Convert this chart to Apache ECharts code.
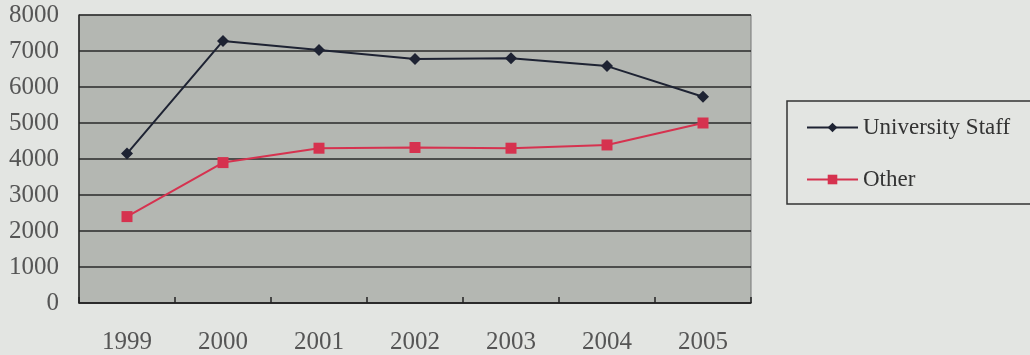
<!DOCTYPE html>
<html>
<head>
<meta charset="utf-8">
<script src="https://cdn.jsdelivr.net/npm/echarts@6/dist/echarts.min.js"></script>
<style>
  html, body { margin: 0; padding: 0; background: #e3e5e2; }
  #chart { width: 1030px; height: 355px; }
</style>
</head>
<body>
<div id="chart"></div>
<script>
// Years along the horizontal axis
const years = ['1999', '2000', '2001', '2002', '2003', '2004', '2005'];
// Staff counts per year
const universityStaff = [4150, 7280, 7030, 6780, 6800, 6580, 5730];
const other = [2400, 3900, 4300, 4320, 4300, 4390, 5000];
// Value axis range
const yMin = 0;
const yMax = 8000;
const yStep = 1000;

const serif = '"Liberation Serif", "DejaVu Serif", serif';

const chart = echarts.init(document.getElementById('chart'), null, { renderer: 'canvas' });

chart.setOption({
  backgroundColor: '#e3e5e2',
  animation: false,
  grid: {
    left: 79, right: 279, top: 15, bottom: 52,
    show: true,
    backgroundColor: '#b4b7b2',
    borderColor: '#777',
    borderWidth: 1
  },
  legend: {
    orient: 'vertical',
    left: 787,
    top: 101,
    padding: [15, 60, 13, 19],
    itemWidth: 51,
    itemHeight: 12,
    itemGap: 29,
    borderColor: '#333',
    borderWidth: 1.5,
    backgroundColor: '#e3e5e2',
    textStyle: { fontFamily: serif, fontSize: 23, color: '#333' },
    data: ['University Staff', 'Other']
  },
  xAxis: {
    type: 'category',
    data: years,
    boundaryGap: true,
    axisLine: { lineStyle: { color: '#222', width: 1.5 } },
    axisTick: { show: true, inside: true, length: 6, lineStyle: { color: '#222', width: 1.5 } },
    axisLabel: { fontFamily: serif, fontSize: 25, color: '#555', margin: 27 }
  },
  yAxis: {
    type: 'value',
    min: yMin, max: yMax, interval: yStep,
    axisLine: { show: true, lineStyle: { color: '#222', width: 1.5 } },
    axisTick: { show: false },
    splitLine: { lineStyle: { color: '#2a2a2a', width: 1.5 } },
    axisLabel: { fontFamily: serif, fontSize: 25, color: '#555', margin: 20, formatter: v => String(v) }
  },
  series: [
    {
      name: 'University Staff',
      type: 'line',
      data: universityStaff,
      symbol: 'diamond',
      symbolSize: 12,
      lineStyle: { color: '#1e2333', width: 2 },
      itemStyle: { color: '#1e2333' }
    },
    {
      name: 'Other',
      type: 'line',
      data: other,
      symbol: 'rect',
      symbolSize: 11,
      lineStyle: { color: '#d6324f', width: 2 },
      itemStyle: { color: '#d6324f' }
    }
  ]
});
</script>
</body>
</html>
